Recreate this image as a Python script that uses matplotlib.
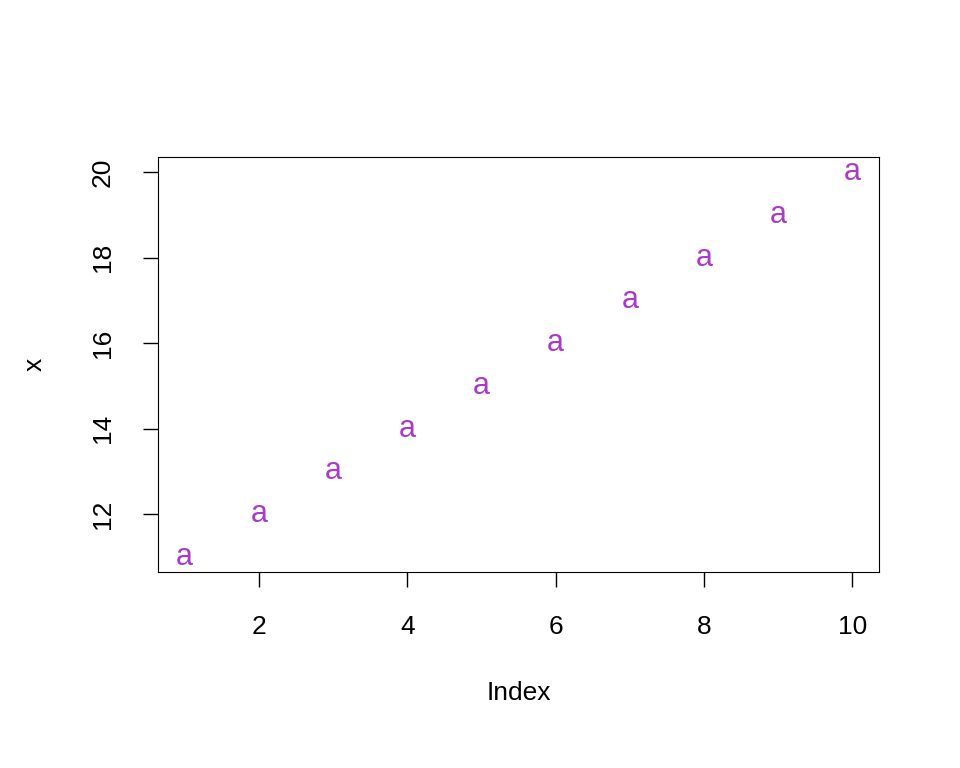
import matplotlib
matplotlib.use("Agg")
import matplotlib.pyplot as plt

index = [1, 2, 3, 4, 5, 6, 7, 8, 9, 10]
x = [11, 12, 13, 14, 15, 16, 17, 18, 19, 20]
xticks = [2, 4, 6, 8, 10]
yticks = [12, 14, 16, 18, 20]

plt.rcParams['font.family'] = ['Liberation Sans', 'DejaVu Sans']
fig = plt.figure(figsize=(9.6, 7.68), dpi=100)
ax = fig.add_axes([158/960, 1-572/768, (879-158)/960, (572-157)/768])
for i, v in zip(index, x):
    ax.text(i, v, "a", color="#A83CC8", fontsize=22, ha="center", va="center")
ax.set_xlim(0.64, 10.36)
ax.set_ylim(10.64, 20.36)
ax.set_xticks(xticks)
ax.set_yticks(yticks)
ax.tick_params(labelsize=19, length=11, width=1, pad=20)
for lab in ax.get_yticklabels():
    lab.set_rotation(90)
    lab.set_va("center")
ax.set_xlabel("Index", fontsize=19, labelpad=30)
ax.set_ylabel("x", fontsize=19, labelpad=32)
fig.savefig("out.png", dpi=100)
